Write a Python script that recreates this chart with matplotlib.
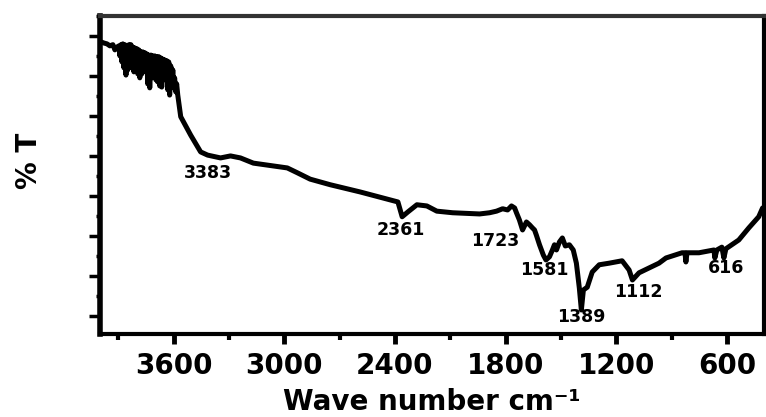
from pathlib import Path

import matplotlib.pyplot as plt
from matplotlib.ticker import FixedLocator, MultipleLocator, NullFormatter

# FTIR spectrum
# noisy O-H / water vapour part at the high wavenumber end
noisy_wavenumber = [
    3995, 3978, 3962, 3946, 3930, 3919, 3908,
    3897, 3892, 3886, 3881, 3876, 3870, 3865, 3859, 3854, 3849,
    3843, 3838, 3832, 3827, 3822, 3816, 3811, 3805, 3800, 3795,
    3789, 3784, 3778, 3773, 3768, 3762, 3757, 3751, 3746, 3741,
    3735, 3730, 3724, 3719, 3714, 3708, 3703, 3697, 3692, 3687,
    3681, 3676, 3670, 3665, 3659, 3654, 3649, 3643, 3638, 3632,
    3627, 3622, 3616, 3611, 3605, 3600, 3595, 3589, 3584, 3578,
]
noisy_transmittance = [
    78.5, 78.2, 78.0, 77.5, 77.8, 76.5, 77.2,
    77.5, 75.0, 77.8, 73.5, 78.0, 72.0, 77.8, 70.2, 77.5, 71.5,
    77.8, 73.0, 77.8, 72.0, 77.2, 71.0, 77.0, 71.5, 76.8, 70.5,
    76.5, 69.5, 76.0, 70.5, 76.0, 71.5, 75.8, 71.0, 75.5, 68.0,
    75.2, 67.0, 75.2, 69.5, 75.0, 70.2, 75.0, 69.0, 74.8, 68.5,
    74.8, 67.5, 74.5, 67.2, 74.2, 69.0, 74.0, 69.5, 73.8, 66.5,
    73.5, 65.2, 72.5, 67.0, 71.5, 67.5, 69.5, 66.0, 68.0, 65.2,
]
# rest of the spectrum
smooth_wavenumber = [
    3562, 3508, 3454, 3416, 3346, 3292, 3238, 3168, 3060, 2984,
    2930, 2860, 2751, 2589, 2384, 2361, 2330, 2281, 2227, 2173,
    2087, 1941, 1887, 1849, 1816, 1789, 1768, 1751, 1741, 1725,
    1708, 1687, 1670, 1654, 1643, 1633, 1616, 1595, 1581, 1562,
    1546, 1535, 1524, 1508, 1492, 1476, 1454, 1433, 1416, 1400,
    1389, 1378, 1357, 1330, 1292, 1238, 1168, 1130, 1112, 1076,
    1022, 968, 930, 843, 827, 822, 816, 751, 670, 665,
    654, 627, 616, 605, 535, 481, 427, 406,
]
smooth_transmittance = [
    59.8, 55.2, 51.0, 50.2, 49.5, 50.0, 49.5, 48.2, 47.5, 47.0,
    45.8, 44.2, 42.8, 41.0, 38.5, 34.8, 36.0, 37.8, 37.5, 36.2,
    35.8, 35.5, 35.8, 36.2, 36.8, 36.5, 37.5, 37.0, 35.8, 34.0,
    31.5, 33.5, 32.8, 32.0, 31.5, 30.2, 27.8, 25.2, 24.0, 24.8,
    26.5, 27.8, 26.5, 28.5, 29.5, 27.5, 27.8, 26.5, 23.2, 17.0,
    11.5, 16.5, 17.2, 21.0, 22.8, 23.2, 23.8, 21.5, 19.0, 20.8,
    22.0, 23.2, 24.5, 25.8, 25.8, 23.5, 25.8, 25.8, 26.5, 24.5,
    26.5, 27.2, 24.5, 26.8, 29.0, 32.0, 34.8, 37.0,
]

# peak labels and where their text sits
peak_labels = ["3383", "2361", "1723", "1581", "1389", "1112", "616"]
label_x = [3416, 2368, 1854, 1589, 1389, 1081, 606]
label_y = [45.8, 31.5, 28.8, 21.5, 9.8, 16.0, 22.0]

x_ticks = [3600, 3000, 2400, 1800, 1200, 600]


def plot_ftir(out_path: Path) -> None:
    plt.rcParams["font.family"] = ["DejaVu Sans"]
    fig = plt.figure(figsize=(7.66, 4.17), dpi=100)
    ax = fig.add_axes([0.1305, 0.199, 0.8665, 0.763])

    wn = noisy_wavenumber + smooth_wavenumber
    tr = noisy_transmittance + smooth_transmittance
    ax.plot(wn, tr, color="black", linewidth=3.6,
            solid_joinstyle="round", solid_capstyle="round")

    for text, x, y in zip(peak_labels, label_x, label_y):
        ax.text(x, y, text, ha="center", va="center",
                fontsize=12.5, fontweight="bold")

    ax.set_xlim(4000, 400)
    ax.set_ylim(5.5, 85)

    ax.xaxis.set_major_locator(FixedLocator(x_ticks))
    ax.xaxis.set_minor_locator(MultipleLocator(300))
    ax.yaxis.set_major_locator(MultipleLocator(10))
    ax.yaxis.set_minor_locator(MultipleLocator(5))
    ax.yaxis.set_major_formatter(NullFormatter())

    ax.tick_params(axis="x", which="major", direction="out", length=7,
                   width=3.5, pad=6, labelsize=20)
    ax.tick_params(axis="x", which="minor", direction="out", length=4,
                   width=3)
    ax.tick_params(axis="y", which="major", direction="out", length=8,
                   width=2.5)
    ax.tick_params(axis="y", which="minor", direction="out", length=3,
                   width=2.5)
    for lbl in ax.get_xticklabels():
        lbl.set_fontweight("bold")

    ax.spines["left"].set_linewidth(4)
    ax.spines["bottom"].set_linewidth(3)
    ax.spines["right"].set_linewidth(3)
    ax.spines["top"].set_linewidth(3)
    ax.spines["top"].set_color("#333333")

    ax.set_xlabel("Wave number cm⁻¹", fontsize=20,
                  fontweight="bold", labelpad=6)
    ax.set_ylabel("% T", fontsize=20, fontweight="bold")
    ax.yaxis.set_label_coords(-0.086, 0.544)

    fig.savefig(out_path, dpi=100)
    plt.close(fig)


plot_ftir(Path("out.png"))
